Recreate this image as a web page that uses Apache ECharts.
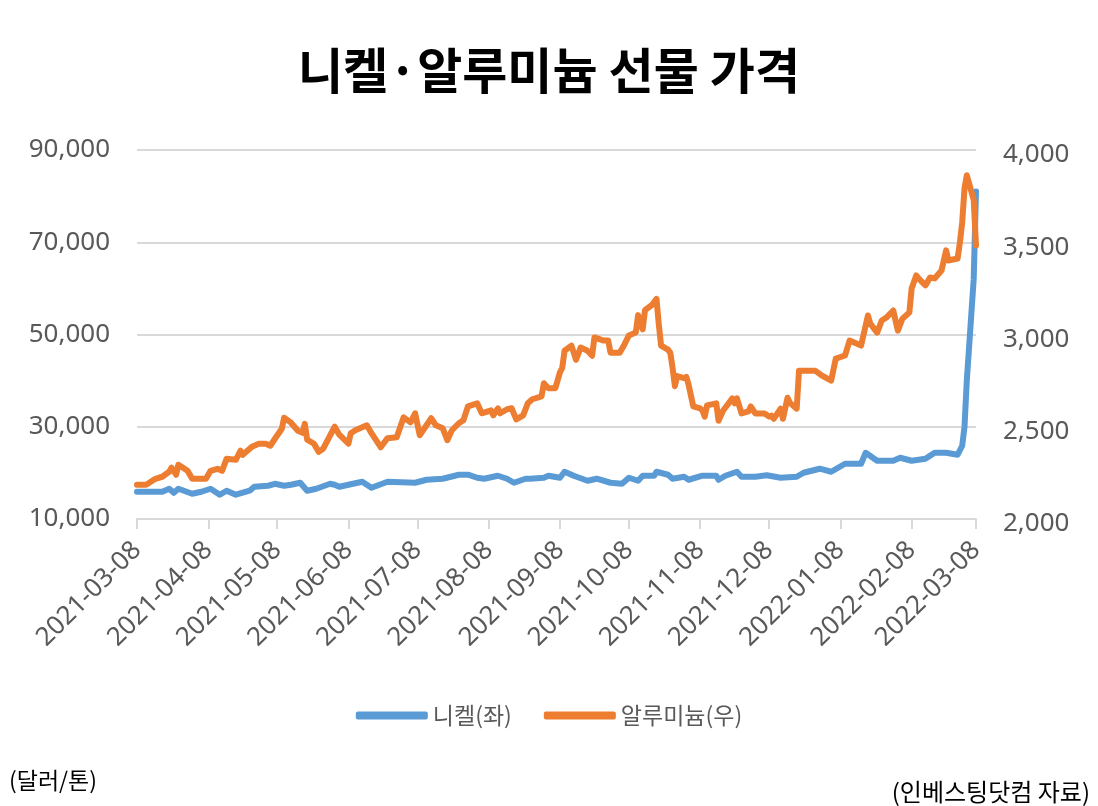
<!DOCTYPE html>
<html>
<head>
<meta charset="utf-8">
<script src="https://cdn.jsdelivr.net/npm/echarts@6/dist/echarts.min.js"></script>
<style>
html,body{margin:0;padding:0;background:#fff;}
#chart{width:1098px;height:806px;}
</style>
</head>
<body>
<div id="chart"></div>
<script>
// ---- data ----
const tickDates = ['2021-03-08','2021-04-08','2021-05-08','2021-06-08','2021-07-08','2021-08-08',
  '2021-09-08','2021-10-08','2021-11-08','2021-12-08','2022-01-08','2022-02-08','2022-03-08'];
const leftTicks = [10000, 30000, 50000, 70000, 90000];
const rightTicks = [2000, 2500, 3000, 3500, 4000];

const nickelDates = ['2021-03-08','2021-03-19','2021-03-22','2021-03-24','2021-03-26','2021-04-01','2021-04-05','2021-04-09',
  '2021-04-13','2021-04-16','2021-04-20','2021-04-26','2021-04-28','2021-05-04','2021-05-07','2021-05-11','2021-05-14',
  '2021-05-18','2021-05-21','2021-05-25','2021-05-31','2021-06-02','2021-06-04','2021-06-08','2021-06-14','2021-06-18',
  '2021-06-25','2021-07-07','2021-07-12','2021-07-19','2021-07-26','2021-07-30','2021-08-03','2021-08-06','2021-08-12',
  '2021-08-16','2021-08-19','2021-08-24','2021-08-26','2021-09-01','2021-09-03','2021-09-08','2021-09-10','2021-09-14',
  '2021-09-20','2021-09-24','2021-09-30','2021-10-05','2021-10-08','2021-10-12','2021-10-14','2021-10-19','2021-10-20',
  '2021-10-25','2021-10-27','2021-11-01','2021-11-03','2021-11-09','2021-11-15','2021-11-16','2021-11-19','2021-11-24',
  '2021-11-26','2021-12-02','2021-12-07','2021-12-13','2021-12-20','2021-12-23','2021-12-30','2022-01-04','2022-01-10',
  '2022-01-17','2022-01-19','2022-01-24','2022-01-31','2022-02-03','2022-02-08','2022-02-14','2022-02-18','2022-02-23',
  '2022-02-28','2022-03-02','2022-03-03','2022-03-04','2022-03-07','2022-03-08'];
const nickelValues = [15908,15900,16560,15690,16560,15470,15910,16560,
  15260,16130,15260,16130,17000,17210,17640,17210,17430,
  17860,16130,16560,17640,17430,17000,17430,18070,16770,
  18070,17860,18510,18730,19600,19600,18940,18730,19380,
  18730,17860,18730,18730,18940,19380,18940,20240,19380,
  18290,18730,17860,17640,18940,18290,19380,19380,20240,
  19600,18730,19160,18510,19380,19380,18510,19380,20240,
  19160,19160,19500,18940,19160,20030,20900,20240,21980,
  21980,24360,22630,22630,23280,22630,23060,24360,24360,
  23930,25880,30000,40000,62000,81000];

const aluDates = ['2021-03-08','2021-03-12','2021-03-16','2021-03-19','2021-03-22','2021-03-23','2021-03-25','2021-03-26','2021-03-30',
  '2021-04-01','2021-04-05','2021-04-07','2021-04-09','2021-04-12','2021-04-14','2021-04-16','2021-04-20','2021-04-22','2021-04-23','2021-04-27','2021-04-30',
  '2021-05-03','2021-05-05','2021-05-07','2021-05-10','2021-05-11','2021-05-14','2021-05-17','2021-05-19','2021-05-20','2021-05-21','2021-05-24','2021-05-26','2021-05-28',
  '2021-06-02','2021-06-04','2021-06-08','2021-06-09','2021-06-11','2021-06-16','2021-06-18','2021-06-22','2021-06-25','2021-06-29',
  '2021-07-02','2021-07-05','2021-07-07','2021-07-09','2021-07-14','2021-07-16','2021-07-19','2021-07-21','2021-07-23','2021-07-26','2021-07-28','2021-07-30',
  '2021-08-03','2021-08-05','2021-08-09','2021-08-10','2021-08-12','2021-08-13','2021-08-16','2021-08-18','2021-08-20','2021-08-23','2021-08-25','2021-08-27','2021-08-31',
  '2021-09-01','2021-09-03','2021-09-06','2021-09-08','2021-09-09','2021-09-10','2021-09-13','2021-09-15','2021-09-17','2021-09-20','2021-09-22','2021-09-23','2021-09-27','2021-09-29','2021-09-30',
  '2021-10-01','2021-10-04','2021-10-06','2021-10-08','2021-10-11','2021-10-12','2021-10-13','2021-10-14','2021-10-15','2021-10-18','2021-10-20','2021-10-21','2021-10-22','2021-10-25','2021-10-26','2021-10-27','2021-10-28','2021-10-29',
  '2021-11-01','2021-11-02','2021-11-03','2021-11-05','2021-11-08','2021-11-09','2021-11-10','2021-11-11','2021-11-15','2021-11-16','2021-11-18','2021-11-22','2021-11-23','2021-11-24','2021-11-26','2021-11-29','2021-11-30',
  '2021-12-02','2021-12-06','2021-12-08','2021-12-09','2021-12-10','2021-12-13','2021-12-14','2021-12-16','2021-12-17','2021-12-20','2021-12-21','2021-12-23','2021-12-28','2021-12-31',
  '2022-01-04','2022-01-06','2022-01-10','2022-01-12','2022-01-14','2022-01-17','2022-01-18','2022-01-20','2022-01-21','2022-01-24','2022-01-26','2022-01-28','2022-01-31',
  '2022-02-01','2022-02-02','2022-02-04','2022-02-07','2022-02-08','2022-02-10','2022-02-11','2022-02-14','2022-02-16','2022-02-18','2022-02-21','2022-02-23','2022-02-24','2022-02-28',
  '2022-03-01','2022-03-02','2022-03-03','2022-03-04','2022-03-07','2022-03-08'];
const aluValues = [2186,2186,2218,2229,2256,2278,2240,2294,2261,
  2218,2218,2218,2261,2272,2261,2327,2321,2370,2348,2392,2408,
  2408,2397,2435,2489,2549,2522,2478,2467,2516,2430,2408,2364,2381,
  2500,2457,2408,2465,2481,2508,2465,2389,2438,2443,
  2551,2524,2573,2454,2546,2508,2492,2427,2481,2519,2535,2611,
  2627,2573,2589,2562,2600,2573,2595,2600,2540,2562,2627,2649,2665,
  2736,2709,2709,2795,2819,2912,2940,2863,2929,2912,2885,2984,2967,2967,2901,
  2901,2901,2945,2995,3011,3105,3055,3028,3132,3160,3193,3055,2940,2918,2901,2819,2720,2775,
  2764,2770,2726,2610,2599,2588,2555,2616,2627,2533,2588,2654,2627,2654,2572,2583,2610,
  2572,2572,2555,2560,2543,2598,2543,2657,2630,2598,2804,2804,2804,2777,
  2750,2869,2886,2967,2956,2940,2994,3103,3059,3010,3076,3092,3130,
  3076,3021,3086,3119,3249,3320,3304,3266,3309,3304,3347,3456,3401,3412,
  3499,3608,3792,3863,3730,3483];

// ---- helpers ----
function toTs(s){ const p = s.split('-').map(Number); return Date.UTC(p[0], p[1]-1, p[2]); }
function pad(n){ return (n < 10 ? '0' : '') + n; }
function fmtDate(v){ const d = new Date(Math.round(v)); return d.getUTCFullYear() + '-' + pad(d.getUTCMonth()+1) + '-' + pad(d.getUTCDate()); }
function fmtNum(v){ return Number(v).toLocaleString('en-US'); }

const tickTs = tickDates.map(toTs);
const nickelData = nickelDates.map((d, i) => [toTs(d), nickelValues[i]]);
const aluData = aluDates.map((d, i) => [toTs(d), aluValues[i]]);

const gray = '#595959';
const gridColor = '#D9D9D9';

const chart = echarts.init(document.getElementById('chart'), null, {renderer: 'canvas'});
chart.setOption({
  animation: false,
  backgroundColor: '#ffffff',
  title: [
    { text: '니켈·알루미늄 선물 가격', left: 'center', top: 41,
      textStyle: { fontFamily: 'Noto Sans CJK KR', fontWeight: 'bold', fontSize: 49, color: '#000' } },
    { text: '(달러/톤)', left: 4, top: 764,
      textStyle: { fontFamily: 'Noto Sans CJK KR', fontWeight: 'normal', fontSize: 23, color: '#000' } },
    { text: '(인베스팅닷컴 자료)', right: 3, top: 775,
      textStyle: { fontFamily: 'Noto Sans CJK KR', fontWeight: 'normal', fontSize: 24, color: '#000' } }
  ],
  legend: {
    bottom: 74, left: 'center',
    itemWidth: 72, itemHeight: 8, itemGap: 32,
    icon: 'roundRect',
    textStyle: { fontFamily: 'Noto Sans CJK KR', fontSize: 23, color: gray },
    data: ['니켈(좌)', '알루미늄(우)']
  },
  grid: { left: 137, right: 122, top: 150, bottom: 287 },
  xAxis: {
    type: 'value',
    min: tickTs[0], max: tickTs[tickTs.length - 1],
    axisLine: { show: true, lineStyle: { color: gridColor, width: 2 } },
    axisTick: { show: true, customValues: tickTs, length: 10, lineStyle: { color: gridColor, width: 2 } },
    splitLine: { show: false },
    axisLabel: {
      customValues: tickTs, rotate: 45, margin: 27,
      fontFamily: 'Noto Sans', fontSize: 26, color: gray,
      formatter: v => fmtDate(v),
      hideOverlap: false
    }
  },
  yAxis: [
    { type: 'value', min: leftTicks[0], max: leftTicks[leftTicks.length - 1], interval: 20000,
      axisLine: { show: false }, axisTick: { show: false },
      splitLine: { show: true, lineStyle: { color: gridColor, width: 2 } },
      axisLabel: { margin: 27, fontFamily: 'Noto Sans', fontSize: 26, color: gray, formatter: v => fmtNum(v) } },
    { type: 'value', min: rightTicks[0], max: rightTicks[rightTicks.length - 1], interval: 500,
      axisLine: { show: false }, axisTick: { show: false },
      splitLine: { show: false },
      axisLabel: { margin: 27, fontFamily: 'Noto Sans', fontSize: 26, color: gray,
        formatter: v => '{r|' + fmtNum(v) + '}',
        rich: { r: { fontFamily: 'Noto Sans', fontSize: 26, color: gray, padding: [10, 0, 0, 0] } } } }
  ],
  series: [
    { name: '니켈(좌)', type: 'line', yAxisIndex: 0, data: nickelData, showSymbol: false,
      itemStyle: { color: '#5B9BD5' },
      lineStyle: { color: '#5B9BD5', width: 6, join: 'round', cap: 'round' } },
    { name: '알루미늄(우)', type: 'line', yAxisIndex: 1, data: aluData, showSymbol: false,
      itemStyle: { color: '#ED7D31' },
      lineStyle: { color: '#ED7D31', width: 6, join: 'round', cap: 'round' } }
  ]
});
</script>
</body>
</html>
